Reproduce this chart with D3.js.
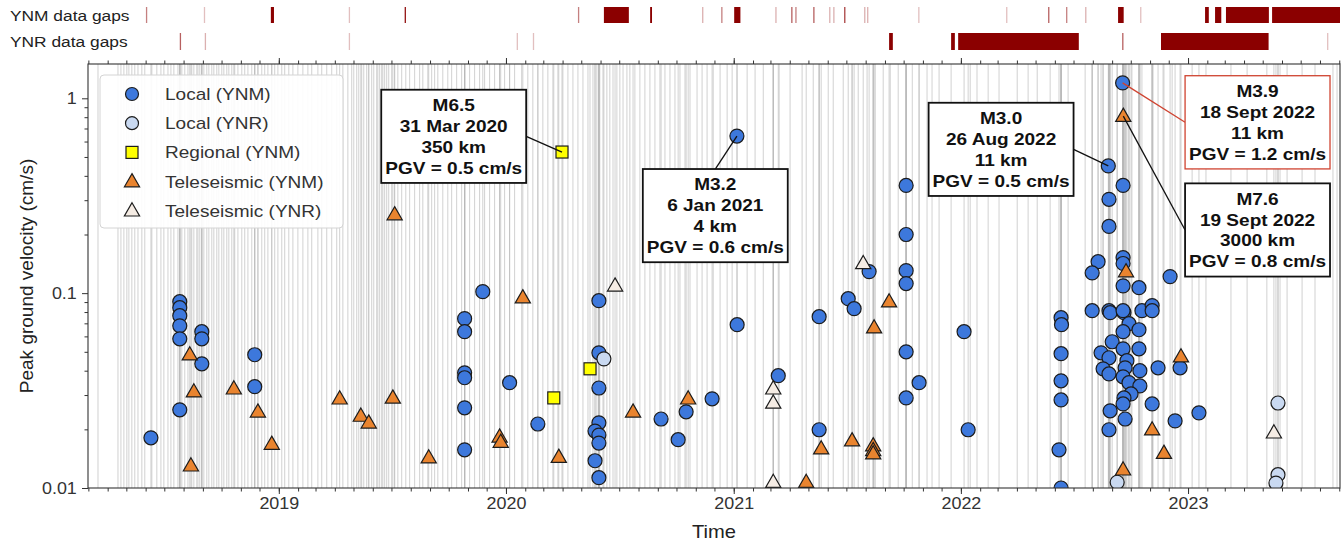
<!DOCTYPE html>
<html>
<head>
<meta charset="utf-8">
<title>Peak ground velocity</title>
<style>
body{margin:0;background:#fff;}
svg text{font-family:"Liberation Sans",Arial,Helvetica,sans-serif;}
</style>
</head>
<body>
<svg id="chart" width="1344" height="544"></svg>
<script src="https://cdn.jsdelivr.net/npm/d3@7"></script>
<script>

// all catalogue event times (decimal years), drawn as thin grey lines
var eventTimes = [
 2018.204,2018.292,2018.305,2018.318,2018.331,2018.340,2018.353,2018.366,2018.380,2018.397,2018.410,2018.441,
 2018.463,2018.481,2018.494,2018.512,2018.525,2018.538,2018.556,2018.573,2018.586,2018.600,2018.617,2018.639,
 2018.644,2018.652,2018.661,2018.670,2018.683,2018.692,2018.705,2018.714,2018.727,2018.736,2018.749,2018.758,
 2018.771,2018.780,2018.793,2018.806,2018.820,2018.837,2018.850,2018.864,2018.881,2018.894,2018.908,2018.925,
 2018.938,2018.952,2018.969,2018.982,2018.996,2019.013,2019.026,2019.044,2019.062,2019.084,2019.106,2019.128,
 2019.145,2019.172,2019.189,2019.211,2019.233,2019.255,2019.282,2019.304,2019.321,2019.330,2019.343,2019.352,
 2019.365,2019.374,2019.387,2019.396,2019.409,2019.418,2019.431,2019.436,2019.444,2019.453,2019.458,2019.466,
 2019.475,2019.484,2019.497,2019.510,2019.524,2019.541,2019.559,2019.576,2019.598,2019.620,2019.634,2019.656,
 2019.673,2019.686,2019.700,2019.722,2019.744,2019.761,2019.783,2019.805,2019.818,2019.840,2019.862,2019.884,
 2019.906,2019.928,2019.950,2019.972,2019.994,2020.016,2020.038,2020.069,2020.096,2020.118,2020.140,2020.162,
 2020.184,2020.206,2020.228,2020.250,2020.272,2020.294,2020.316,2020.338,2020.360,2020.382,2020.399,2020.412,
 2020.426,2020.443,2020.456,2020.470,2020.487,2020.500,2020.514,2020.531,2020.544,2020.566,2020.588,2020.610,
 2020.632,2020.654,2020.676,2020.698,2020.720,2020.742,2020.764,2020.786,2020.808,2020.839,2020.861,2020.883,
 2020.910,2020.940,2020.971,2020.993,2021.059,2021.094,2021.130,2021.174,2021.200,2021.248,2021.301,2021.350,
 2021.376,2021.416,2021.438,2021.482,2021.521,2021.548,2021.587,2021.623,2021.658,2021.689,2021.724,2021.759,
 2021.786,2021.816,2021.851,2021.873,2021.904,2021.957,2022.041,2022.071,2022.120,2022.168,2022.248,2022.296,
 2022.336,2022.393,2022.441,2022.472,2022.547,2022.578,2022.604,2022.626,2022.688,2022.714,2022.753,2022.784,
 2022.846,2022.890,2022.930,2023.018,2023.079,2023.189,2023.260,2023.347,2023.405,2023.436,2023.502,2023.559,
 2023.638,2023.656
];

// [decimal year, PGV cm/s]
var localYNM = [
 [2018.437,0.0181],[2018.564,0.0904],[2018.564,0.0842],[2018.564,0.0766],[2018.564,0.068],[2018.564,0.0583],[2018.564,0.0252],
 [2018.661,0.0634],[2018.661,0.0583],[2018.661,0.0434],[2018.894,0.0483],[2018.894,0.0331],
 [2019.818,0.074],[2019.818,0.0634],[2019.818,0.039],[2019.818,0.0368],[2019.818,0.0258],[2019.818,0.0157],
 [2019.898,0.1018],[2020.016,0.0347],[2020.140,0.0213],
 [2020.408,0.0915],[2020.408,0.0494],[2020.408,0.0326],[2020.408,0.0216],[2020.391,0.0196],[2020.408,0.0187],
 [2020.408,0.017],[2020.391,0.0138],[2020.408,0.0113],
 [2020.681,0.0226],[2020.756,0.0177],[2020.791,0.0246],[2020.905,0.0287],
 [2021.014,0.64],[2021.015,0.0689],[2021.196,0.0377],[2021.376,0.0757],[2021.376,0.0199],
 [2021.504,0.0937],[2021.530,0.0832],[2021.596,0.129],
 [2021.759,0.357],[2021.759,0.200],[2021.759,0.1305],[2021.759,0.112],[2021.759,0.050],[2021.759,0.029],[2021.816,0.0347],
 [2022.014,0.0634],[2022.032,0.0199],
 [2022.441,0.0748],[2022.443,0.0689],[2022.441,0.0489],[2022.441,0.0355],[2022.441,0.0283],[2022.432,0.0157],[2022.441,0.0100],
 [2022.649,0.45],[2022.712,1.2],[2022.714,0.357],[2022.652,0.303],[2022.652,0.22],[2022.604,0.145],[2022.578,0.127],
 [2022.714,0.152],[2022.714,0.142],[2022.921,0.1216],[2022.714,0.109],[2022.784,0.1067],
 [2022.578,0.0813],[2022.652,0.0813],[2022.657,0.0794],[2022.718,0.0794],[2022.714,0.0813],[2022.797,0.0813],
 [2022.842,0.0863],[2022.842,0.0813],
 [2022.740,0.0697],[2022.714,0.0634],[2022.784,0.0649],[2022.666,0.0563],[2022.714,0.0518],[2022.784,0.0518],
 [2022.617,0.0494],[2022.652,0.0466],[2022.731,0.045],
 [2022.626,0.0409],[2022.723,0.0414],[2022.652,0.0385],[2022.788,0.040],[2022.714,0.0372],[2022.868,0.0414],[2022.965,0.0414],
 [2022.740,0.0347],[2022.788,0.0334],[2022.749,0.0304],[2022.718,0.029],[2022.714,0.027],[2022.842,0.027],
 [2022.657,0.0249],[2022.723,0.0226],[2022.652,0.0199],[2022.943,0.0221],[2023.048,0.0243]
];
var localYNR = [[2020.430,0.046],[2022.688,0.0107],[2023.396,0.0273],[2023.396,0.0117],[2023.387,0.0106]];
var regionalYNM = [[2020.246,0.53],[2020.210,0.029],[2020.369,0.0409]];
var teleYNM = [
 [2018.608,0.0483],[2018.626,0.0312],[2018.613,0.013],[2018.802,0.0323],[2018.908,0.0246],[2018.969,0.0168],
 [2019.268,0.0287],[2019.361,0.0234],[2019.396,0.0216],[2019.502,0.029],[2019.510,0.253],[2019.660,0.0143],
 [2019.972,0.0183],[2019.977,0.0172],[2020.074,0.0948],[2020.232,0.0144],[2020.558,0.0246],[2020.800,0.0287],
 [2021.319,0.0107],[2021.385,0.0159],[2021.521,0.0175],[2021.614,0.0165],[2021.614,0.0156],[2021.614,0.015],
 [2021.618,0.0665],[2021.684,0.0904],[2022.715,0.81],[2022.727,0.129],[2022.969,0.0472],[2022.842,0.0199],
 [2022.894,0.0151],[2022.714,0.0124]
];
var teleYNR = [[2020.479,0.109],[2021.570,0.142],[2021.174,0.0323],[2021.174,0.0273],[2021.174,0.0107],[2023.378,0.0192]];

// data gaps: [start (decimal year), length in days]
var ynmGaps = [
 [2018.415,0.8],[2018.670,0.4],[2018.965,5],[2019.308,0.4],[2019.554,1.5],[2020.316,0.8],[2020.43,40],[2020.633,3],
 [2020.861,0.5],[2020.945,0.8],[2021.002,10],[2021.183,0.5],[2021.253,1],[2021.271,0.8],[2021.350,1],[2021.420,0.5],
 [2021.438,0.5],[2021.486,1.2],[2021.574,0.5],[2021.587,0.5],[2021.812,0.4],[2022.199,0.4],[2022.384,1],[2022.463,0.8],
 [2022.547,0.5],[2022.692,9],[2022.789,0.4],[2023.075,6],[2023.119,10],[2023.167,69],[2023.370,130]
];
var ynrGaps = [
 [2018.564,1],[2018.674,0.5],[2019.308,0.4],[2020.047,0.4],[2020.118,0.4],[2021.684,6],[2021.957,6],[2021.988,194],
 [2022.710,1],[2022.881,173],[2023.612,0.4]
];

// callouts: point, box centre (both in data units), side of box the leader leaves from
var notes = [
 {lines:["M6.5","31 Mar 2020","350 km","PGV = 0.5 cm/s"], at:[2020.246,0.53], box:[2019.770,0.638], side:"right", red:false},
 {lines:["M3.2","6 Jan 2021","4 km","PGV = 0.6 cm/s"], at:[2021.014,0.64], box:[2020.919,0.25], side:"top", red:false},
 {lines:["M3.0","26 Aug 2022","11 km","PGV = 0.5 cm/s"], at:[2022.649,0.45], box:[2022.177,0.547], side:"right", red:false},
 {lines:["M3.9","18 Sept 2022","11 km","PGV = 1.2 cm/s"], at:[2022.712,1.2], box:[2023.306,0.753], side:"left", red:true},
 {lines:["M7.6","19 Sept 2022","3000 km","PGV = 0.8 cm/s"], at:[2022.715,0.81], box:[2023.306,0.211], side:"left", red:false}
];

var SX = 1.12; // glyphs in the figure are a bit wide

var svg = d3.select("#chart");
var L = 88, R = 1340, T = 64, B = 488;

function toDate(v){
  var yr = Math.floor(v);
  var a = Date.UTC(yr,0,1), b = Date.UTC(yr+1,0,1);
  return new Date(a + (v-yr)*(b-a));
}

var x = d3.scaleUtc().domain([toDate(2018.16), toDate(2023.669)]).range([L, R]);
var y = d3.scaleLog().domain([0.01, 1.5]).range([B, T]);

var blue = "#3d78dc", lightBlue = "#c9d9f1", yellow = "#ffff00", orange = "#e9842f", pale = "#f5ece4";
var edge = "#1c1c1c";

svg.append("defs").append("clipPath").attr("id","plotclip")
  .append("rect").attr("x",L).attr("y",T).attr("width",R-L).attr("height",B-T);

// gap rows
function gapRow(gaps, top, h, label){
  svg.append("text").attr("transform","translate(10,"+(top+h/2+5.5)+") scale("+SX+",1)")
    .attr("font-size",15.5).attr("fill","#222").text(label);
  var g = svg.append("g");
  gaps.forEach(function(d){
    var x0 = x(toDate(d[0]));
    var x1 = Math.min(R, x(toDate(d[0] + d[1]/365.25)));
    var w = x1 - x0;
    g.append("rect")
      .attr("x", x0).attr("y", top)
      .attr("width", Math.max(w, 1.3)).attr("height", h)
      .attr("fill","#8b0000")
      .attr("opacity", Math.max(0.25, Math.min(1, w)));
  });
}
gapRow(ynmGaps, 7, 16, "YNM data gaps");
gapRow(ynrGaps, 33, 17, "YNR data gaps");

// grey event lines (also one at every plotted event)
var allTimes = eventTimes.slice();
[localYNM, localYNR, regionalYNM, teleYNM, teleYNR].forEach(function(s){ s.forEach(function(d){ allTimes.push(d[0]); }); });

svg.append("g").selectAll("line").data(allTimes).enter().append("line")
  .attr("x1", function(d){ return x(toDate(d)); })
  .attr("x2", function(d){ return x(toDate(d)); })
  .attr("y1", T).attr("y2", B)
  .attr("stroke","#b8b8b8").attr("stroke-width",1).attr("stroke-opacity",0.65);

// markers
var plot = svg.append("g").attr("clip-path","url(#plotclip)");
var triPath = "M0,-8L7.6,5.2L-7.6,5.2Z";

function circles(data, fill){
  plot.append("g").selectAll("circle").data(data).enter().append("circle")
    .attr("cx", function(d){ return x(toDate(d[0])); })
    .attr("cy", function(d){ return y(d[1]); })
    .attr("r", 7).attr("fill", fill).attr("stroke", edge).attr("stroke-width",1.2);
}
function triangles(data, fill){
  plot.append("g").selectAll("path").data(data).enter().append("path")
    .attr("d", triPath)
    .attr("transform", function(d){ return "translate("+x(toDate(d[0]))+","+y(d[1])+")"; })
    .attr("fill", fill).attr("stroke", edge).attr("stroke-width",1.2);
}
circles(localYNM, blue);
circles(localYNR, lightBlue);
plot.append("g").selectAll("rect").data(regionalYNM).enter().append("rect")
  .attr("x", function(d){ return x(toDate(d[0])) - 6; })
  .attr("y", function(d){ return y(d[1]) - 6; })
  .attr("width",12).attr("height",12)
  .attr("fill", yellow).attr("stroke", edge).attr("stroke-width",1.2);
triangles(teleYNM, orange);
triangles(teleYNR, pale);

// axes
function styleAxis(g){
  g.attr("font-family",null).attr("font-size",null);
  g.select(".domain").remove();
  g.selectAll(".tick line").attr("stroke","#333");
  g.selectAll(".tick text").attr("fill","#333").attr("font-size",16);
}
var xb = svg.append("g").attr("transform","translate(0,"+B+")")
  .call(d3.axisBottom(x).ticks(d3.utcYear.every(1)).tickFormat(d3.utcFormat("%Y")).tickSize(6).tickPadding(4));
styleAxis(xb);
xb.selectAll(".tick text").attr("transform","scale("+SX+",1)");
var xbm = svg.append("g").attr("transform","translate(0,"+B+")")
  .call(d3.axisBottom(x).ticks(d3.utcMonth.every(1)).tickFormat("").tickSize(3.5));
styleAxis(xbm);
var xt = svg.append("g").attr("transform","translate(0,"+T+")")
  .call(d3.axisTop(x).ticks(d3.utcYear.every(1)).tickFormat("").tickSize(6));
styleAxis(xt);
var xtm = svg.append("g").attr("transform","translate(0,"+T+")")
  .call(d3.axisTop(x).ticks(d3.utcMonth.every(1)).tickFormat("").tickSize(3.5));
styleAxis(xtm);

var yMajor = [0.01, 0.1, 1];
var yMinor = y.ticks().filter(function(v){ return yMajor.indexOf(v) < 0; });
var yl = svg.append("g").attr("transform","translate("+L+",0)")
  .call(d3.axisLeft(y).tickValues(yMajor).tickFormat(d3.format("~g")).tickSize(6).tickPadding(4));
styleAxis(yl);
yl.selectAll(".tick text").attr("transform","scale("+SX+",1)");
var ylm = svg.append("g").attr("transform","translate("+L+",0)")
  .call(d3.axisLeft(y).tickValues(yMinor).tickFormat("").tickSize(3.5));
styleAxis(ylm);

svg.append("rect").attr("x",L).attr("y",T).attr("width",R-L).attr("height",B-T)
  .attr("fill","none").attr("stroke","#333").attr("stroke-width",1.1);

svg.append("text").attr("transform","translate("+((L+R)/2)+",538) scale("+SX+",1)")
  .attr("text-anchor","middle").attr("font-size",18).attr("fill","#222").text("Time");
svg.append("text").attr("transform","translate(33,"+((T+B)/2)+") rotate(-90)")
  .attr("text-anchor","middle").attr("font-size",19).attr("fill","#222").text("Peak ground velocity (cm/s)");

// legend
var legendItems = [
  {name:"Local (YNM)", kind:"circle", fill:blue},
  {name:"Local (YNR)", kind:"circle", fill:lightBlue},
  {name:"Regional (YNM)", kind:"square", fill:yellow},
  {name:"Teleseismic (YNM)", kind:"tri", fill:orange},
  {name:"Teleseismic (YNR)", kind:"tri", fill:pale}
];
var lg = svg.append("g");
lg.append("rect").attr("x",100).attr("y",75).attr("width",243).attr("height",153).attr("rx",4)
  .attr("fill","#fff").attr("fill-opacity",0.9).attr("stroke","#d4d4d4");
legendItems.forEach(function(it, i){
  var cy = 94 + i*29.2;
  if (it.kind === "circle") lg.append("circle").attr("cx",132).attr("cy",cy).attr("r",6.5)
      .attr("fill",it.fill).attr("stroke",edge).attr("stroke-width",1.2);
  else if (it.kind === "square") lg.append("rect").attr("x",126).attr("y",cy-6).attr("width",12).attr("height",12)
      .attr("fill",it.fill).attr("stroke",edge).attr("stroke-width",1.2);
  else lg.append("path").attr("d",triPath).attr("transform","translate(132,"+cy+")")
      .attr("fill",it.fill).attr("stroke",edge).attr("stroke-width",1.2);
  lg.append("text").attr("transform","translate(165,"+(cy+6)+") scale("+SX+",1)")
    .attr("font-size",17).attr("fill","#333").text(it.name);
});

// callouts
var ag = svg.append("g");
notes.forEach(function(n){
  var cx = x(toDate(n.box[0])), cy = y(n.box[1]);
  var col = n.red ? "#cf4330" : "#111";
  var box = ag.append("g").attr("transform","translate("+cx+","+cy+")");
  var inner = box.append("g").attr("transform","scale("+SX+",1)");
  var lh = 20.8;
  n.lines.forEach(function(s, i){
    inner.append("text").attr("x",0).attr("y",(i - (n.lines.length-1)/2)*lh + 6)
      .attr("text-anchor","middle").attr("font-size",17).attr("font-weight","bold").attr("fill","#111").text(s);
  });
  var bb = box.node().getBBox();
  var w = bb.width + 8, h = n.lines.length*lh + 10;
  var sx = cx, sy = cy;
  if (n.side === "left") sx = cx - w/2;
  if (n.side === "right") sx = cx + w/2;
  if (n.side === "top") sy = cy - h/2;
  ag.insert("line", ":first-child")
    .attr("x1", sx).attr("y1", sy)
    .attr("x2", x(toDate(n.at[0]))).attr("y2", y(n.at[1]))
    .attr("stroke", col).attr("stroke-width",1.3);
  box.insert("rect", ":first-child").attr("x",-w/2).attr("y",-h/2).attr("width",w).attr("height",h)
    .attr("fill","#fff").attr("stroke",col).attr("stroke-width", n.red ? 1.3 : 1.8);
});

</script>
</body>
</html>
